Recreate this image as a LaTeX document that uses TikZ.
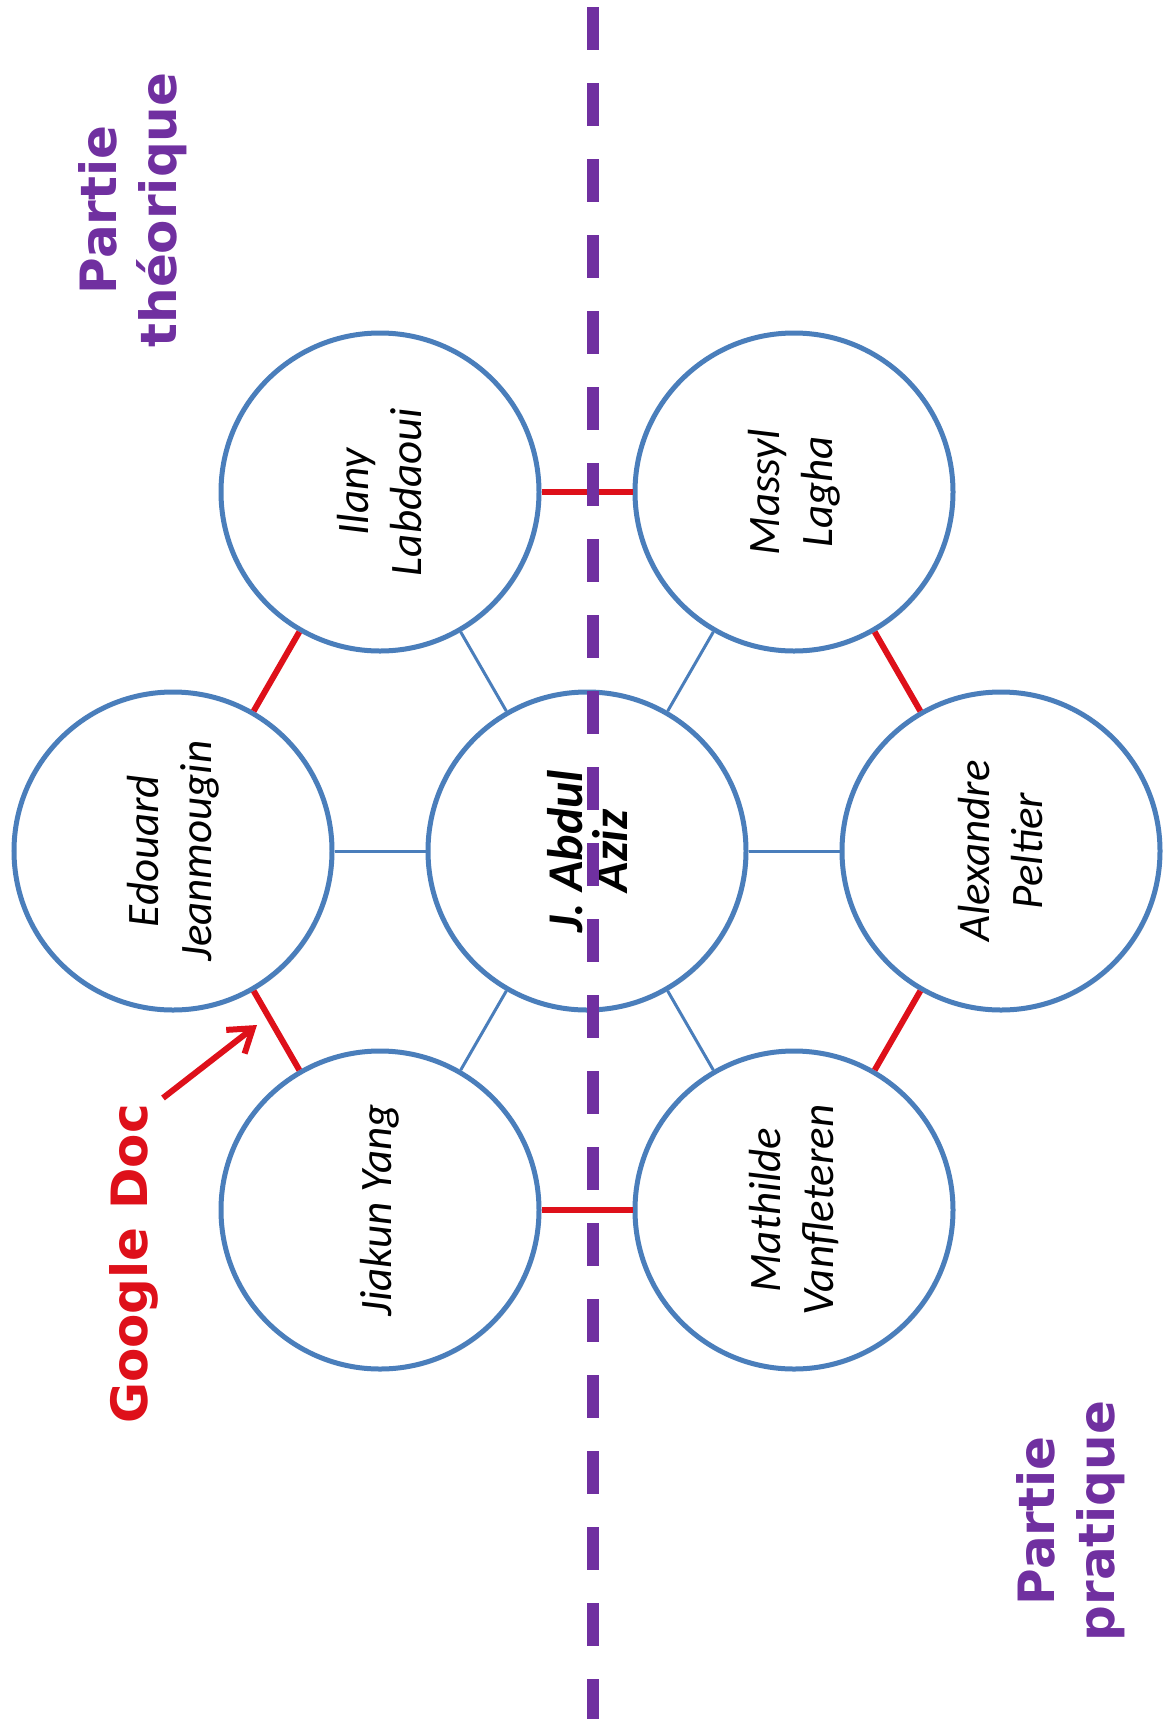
\documentclass[tikz,border=0pt]{standalone}
\usepackage{fontspec}
\usetikzlibrary{arrows.meta,shadows}
\newfontfamily\namefont{Carlito}
\newfontfamily\titlefont{DejaVu Sans}
\definecolor{cblue}{RGB}{74,126,187}
\definecolor{cred}{RGB}{222,16,26}
\definecolor{cpurple}{RGB}{112,48,160}
\tikzset{
  person/.style={circle, draw=cblue, line width=5bp, fill=white,
    minimum size=318bp, inner sep=0pt, align=center, rotate=90,
    font=\namefont\itshape\fontsize{45bp}{53bp}\selectfont,
    drop shadow={opacity=0.25, shadow xshift=2bp, shadow yshift=-2bp}},
  hub/.style={person, font=\namefont\bfseries\itshape\fontsize{50bp}{45bp}\selectfont},
  spoke/.style={draw=cblue, line width=3bp},
  ring/.style={draw=cred, line width=6bp},
  title/.style={rotate=90, align=center, text=cpurple,
    font=\titlefont\bfseries\fontsize{50bp}{60bp}\selectfont},
  divider/.style={draw=cpurple, line width=12bp, dash pattern=on 43bp off 33bp}
}
\begin{document}
\begin{tikzpicture}[x=1bp, y=-1bp]
\fill[white] (0,0) rectangle (1165,1719);
\useasboundingbox (0,0) rectangle (1165,1719);

% connectors first (behind circles)
\coordinate (pc) at (587,851);
\coordinate (ped) at (173,851);
\coordinate (pal) at (1001,851);
\coordinate (pil) at (380,492);
\coordinate (pma) at (794,492);
\coordinate (pji) at (380,1210);
\coordinate (pmt) at (794,1210);

\node[hub] (c) at (pc) {J. Abdul\\Aziz};
\node[person] (ed) at (ped) {Edouard\\Jeanmougin};
\node[person] (al) at (pal) {Alexandre\\Peltier};
\node[person] (il) at (pil) {Ilany\\Labdaoui};
\node[person] (ma) at (pma) {Massyl\\Lagha};
\node[person] (ji) at (pji) {Jiakun Yang};
\node[person] (mt) at (pmt) {Mathilde\\Vanfleteren};

\foreach \n in {ed,al,il,ma,ji,mt}{
  \draw[spoke] (c) -- (\n);
}
\draw[ring] (ed) -- (il);
\draw[ring] (il) -- (ma);
\draw[ring] (ma) -- (al);
\draw[ring] (al) -- (mt);
\draw[ring] (mt) -- (ji);
\draw[ring] (ji) -- (ed);

\node[title] (theo) at (133,210) {Partie\\théorique};
\node[title] (prat) at (1071,1521) {Partie\\pratique};
\node[title, text=cred] (gdoc) at (134,1264) {Google Doc};

\coordinate (atail) at (163,1098);
\coordinate (atip) at (257,1025);
\draw[draw=cred, line width=6bp, -{Straight Barb[length=22bp,width=30bp,line width=6bp]}] (atail) -- (atip);

\coordinate (dtop) at (593,7);
\coordinate (dbot) at (593,1719);
\draw[divider] (dtop) -- (dbot);
\end{tikzpicture}
\end{document}
